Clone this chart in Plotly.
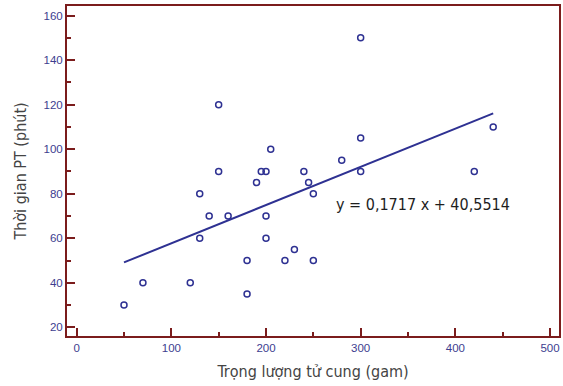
import plotly.graph_objects as go

# Data
weight_g = [50, 70, 120, 130, 140, 130, 150, 150, 160, 180, 180, 190, 195, 200,
            205, 200, 200, 220, 230, 240, 245, 250, 250, 280, 300, 300, 300, 420, 440]
time_min = [30, 40, 40, 80, 70, 60, 120, 90, 70, 50, 35, 85, 90, 90,
            100, 70, 60, 50, 55, 90, 85, 80, 50, 95, 150, 105, 90, 90, 110]
slope = 0.1717
intercept = 40.5514
equation_text = "y = 0,1717 x + 40,5514"
x_ticks = [0, 100, 200, 300, 400, 500]
y_ticks = [20, 40, 60, 80, 100, 120, 140, 160]

AXC = "#7b1c1c"
MARK = "#2e3192"
TICKC = "#3d3d8f"
NARROW = "DejaVu Sans Condensed, Liberation Sans Narrow, sans-serif"

fig = go.Figure()
fig.add_trace(go.Scatter(
    x=weight_g, y=time_min, mode="markers",
    marker=dict(symbol="circle-open", size=6, color=MARK, line=dict(width=1.5, color=MARK)),
    showlegend=False, hoverinfo="skip"))

x0, x1 = min(weight_g), max(weight_g)
fig.add_trace(go.Scatter(
    x=[x0, x1], y=[slope * x0 + intercept, slope * x1 + intercept], mode="lines",
    line=dict(color=MARK, width=2), showlegend=False, hoverinfo="skip"))

fig.add_annotation(x=366, y=75, xref="x", yref="y", text=equation_text, showarrow=False,
                   font=dict(family=NARROW, size=16, color="#1e1e1e"))

axis_common = dict(showline=True, linecolor=AXC, linewidth=2, mirror=True,
                   ticks="inside", ticklen=8, tickwidth=2, tickcolor=AXC,
                   showgrid=False, zeroline=False,
                   tickfont=dict(family="Liberation Sans, Arial, sans-serif", size=11.5, color=TICKC))

fig.update_xaxes(range=[-10.2, 509.5], tickvals=x_ticks,
                 minor=dict(dtick=50, ticks="inside", ticklen=4, tickwidth=2, tickcolor=AXC),
                 title=dict(text="Trọng lượng tử cung (gam)",
                            font=dict(family=NARROW, size=16, color="#444444"), standoff=13),
                 **axis_common)
fig.update_yaxes(range=[16.1, 164.3], tickvals=y_ticks,
                 minor=dict(dtick=10, ticks="inside", ticklen=4, tickwidth=2, tickcolor=AXC),
                 title=dict(text="Thời gian PT (phút)",
                            font=dict(family=NARROW, size=16, color="#444444"), standoff=13),
                 **axis_common)

fig.update_layout(width=563, height=386, margin=dict(l=67, r=2, t=6, b=50),
                  paper_bgcolor="white", plot_bgcolor="white")

fig.write_html("out.html")
